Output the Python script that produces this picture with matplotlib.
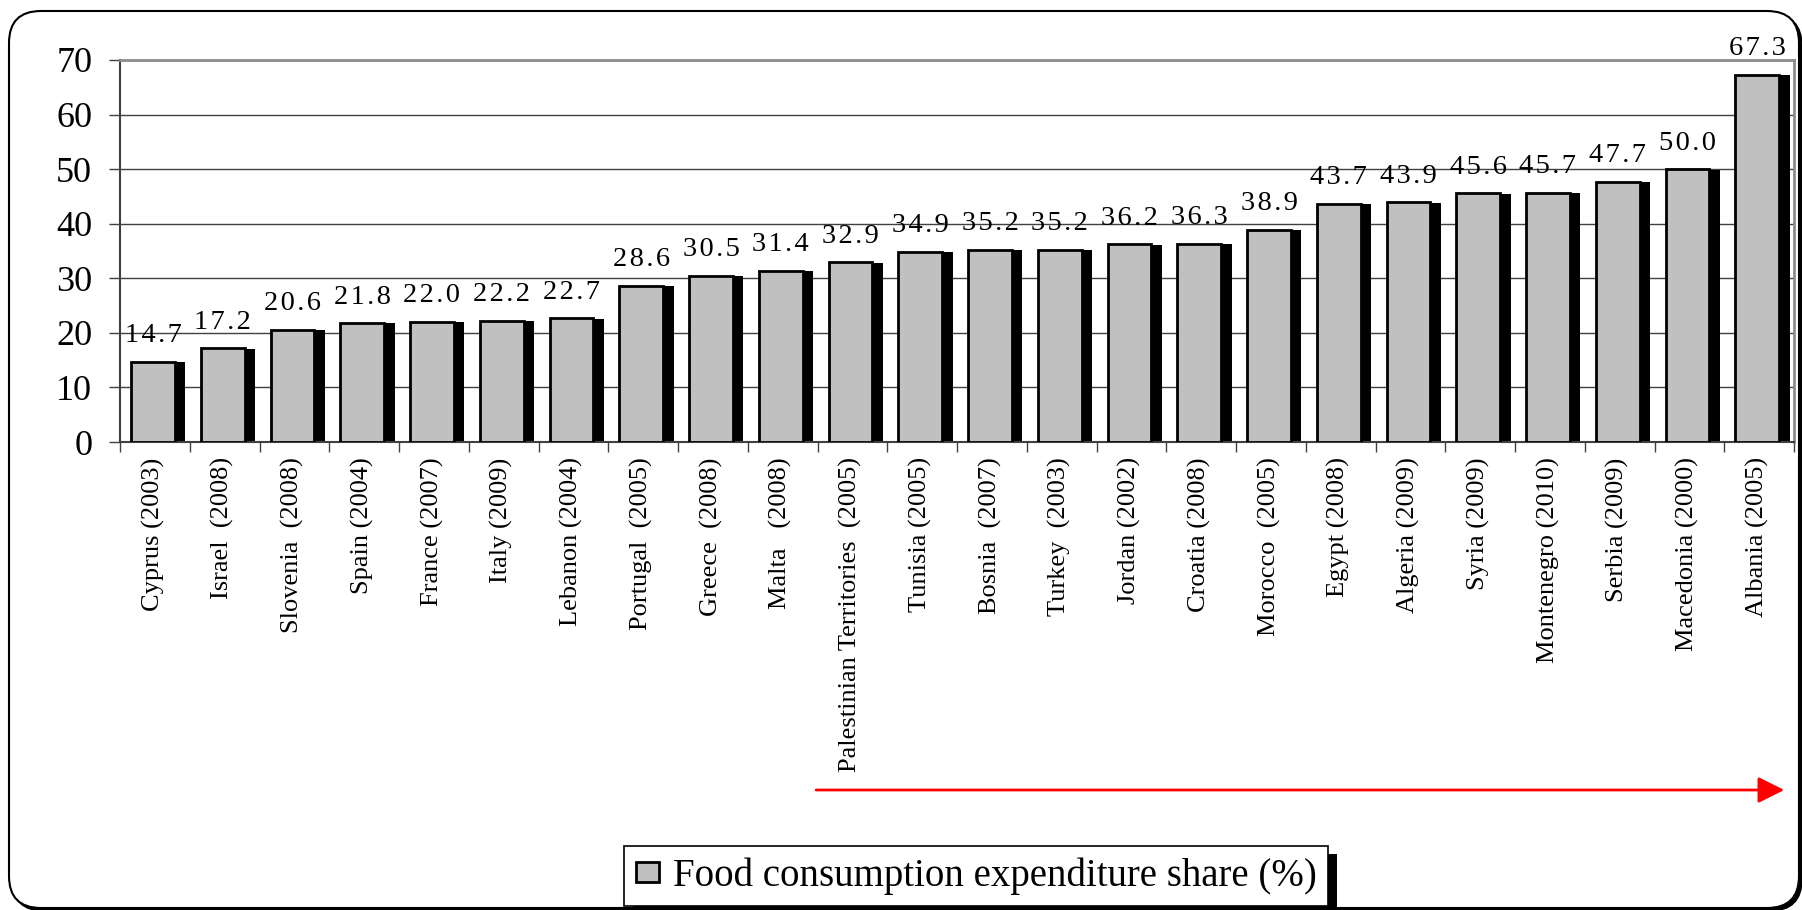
import matplotlib
matplotlib.use("Agg")
import matplotlib.pyplot as plt
from matplotlib.patches import FancyBboxPatch, Rectangle
from matplotlib.transforms import IdentityTransform
import numpy as np

countries = ["Cyprus (2003)", "Israel  (2008)", "Slovenia  (2008)", "Spain (2004)",
             "France (2007)", "Italy (2009)", "Lebanon (2004)", "Portugal  (2005)",
             "Greece  (2008)", "Malta   (2008)", "Palestinian Territories  (2005)",
             "Tunisia (2005)", "Bosnia  (2007)", "Turkey  (2003)", "Jordan (2002)",
             "Croatia (2008)", "Morocco  (2005)", "Egypt (2008)", "Algeria (2009)",
             "Syria (2009)", "Montenegro (2010)", "Serbia (2009)", "Macedonia (2000)",
             "Albania (2005)"]
values = [14.7, 17.2, 20.6, 21.8, 22.0, 22.2, 22.7, 28.6, 30.5, 31.4, 32.9, 34.9,
          35.2, 35.2, 36.2, 36.3, 38.9, 43.7, 43.9, 45.6, 45.7, 47.7, 50.0, 67.3]
series_label = "Food consumption expenditure share (%)"
yticks = [0, 10, 20, 30, 40, 50, 60, 70]

SERIF = ["Liberation Serif", "DejaVu Serif"]
plt.rcParams["font.family"] = SERIF

W, H = 1802, 910
fig = plt.figure(figsize=(W / 100, H / 100), dpi=100)

# rounded chart-area border with a small shadow
shadow_border = FancyBboxPatch((12, -1), 1790, 897, boxstyle="round,pad=0,rounding_size=32",
                               transform=IdentityTransform(), fc="black", ec="black", lw=1, zorder=-4)
border = FancyBboxPatch((9, 2), 1790, 897, boxstyle="round,pad=0,rounding_size=32",
                        transform=IdentityTransform(), fc="white", ec="black", lw=1.5, zorder=-3)
fig.add_artist(shadow_border)
fig.add_artist(border)

ax = fig.add_axes([120 / W, 1 - 442 / H, (1794 - 120) / W, (442 - 60) / H])
ax.set_xlim(0, len(values))
ax.set_ylim(0, 70)

x = np.arange(len(values))
face_off, face_w = 0.158, 0.63
sh_dx, sh_dy = 0.15, 0.075

ax.bar(x + face_off + sh_dx, np.array(values) - sh_dy, width=face_w, align="edge",
       color="black", linewidth=0, zorder=2)
bars = ax.bar(x + face_off, values, width=face_w, align="edge", color="#C0C0C0",
              edgecolor="black", linewidth=2, zorder=3, label=series_label)

centers = x + face_off + face_w / 2
for cx, v in zip(centers, values):
    txt = "\u200a".join(f"{v:.1f}")
    ax.annotate(txt, (cx, v), xytext=(0, 14), textcoords="offset points",
                ha="center", va="baseline", fontsize=20.5, color="black", zorder=5,
                annotation_clip=False)

# grid & spines
ax.set_yticks(yticks)
ax.yaxis.grid(True, color="#404040", lw=1.0, zorder=1)
ax.set_axisbelow(True)
for s in ["left", "bottom"]:
    ax.spines[s].set_color("#404040")
    ax.spines[s].set_linewidth(1.5)
for s in ["top", "right"]:
    ax.spines[s].set_color("#8c8c8c")
    ax.spines[s].set_linewidth(2)

ax.tick_params(axis="y", length=8, width=1, color="#404040", pad=12, labelsize=26)
ax.set_xticks(centers)
ax.set_xticklabels(countries, rotation=90, ha="center", va="top", fontsize=19)
ax.set_xticks(np.arange(0, len(values) + 1), minor=True)
ax.tick_params(axis="x", which="major", length=0, pad=11)
ax.tick_params(axis="x", which="minor", length=7, width=1, color="#404040", direction="out")

# red arrow under the higher-share countries
ax.annotate("", xy=(23.86, 120 / H), xytext=(9.98, 120 / H),
            xycoords=("data", "figure fraction"), textcoords=("data", "figure fraction"),
            arrowprops=dict(arrowstyle="-|>,head_length=0.8,head_width=0.4", color="#ff0000",
                            lw=2, mutation_scale=20, shrinkA=0, shrinkB=0),
            annotation_clip=False)

leg = ax.legend(handles=[bars], labels=[series_label], loc="center",
                bbox_to_anchor=(976 / W, 1 - 876 / H), bbox_transform=fig.transFigure,
                fontsize=28, frameon=True, fancybox=False, edgecolor="black",
                handlelength=0.6, handleheight=0.4, handletextpad=0.35,
                borderpad=0.3, borderaxespad=0)
leg.get_frame().set_linewidth(1.2)
leg.get_frame().set_facecolor("white")
leg.get_frame().set_alpha(1)

fig.canvas.draw()
bb = leg.get_window_extent()
fig.add_artist(Rectangle((bb.x0 + 9, bb.y0 - 8), bb.width, bb.height,
                         transform=IdentityTransform(), fc="black", ec="none", zorder=-1))

fig.savefig("out.png", dpi=100)
